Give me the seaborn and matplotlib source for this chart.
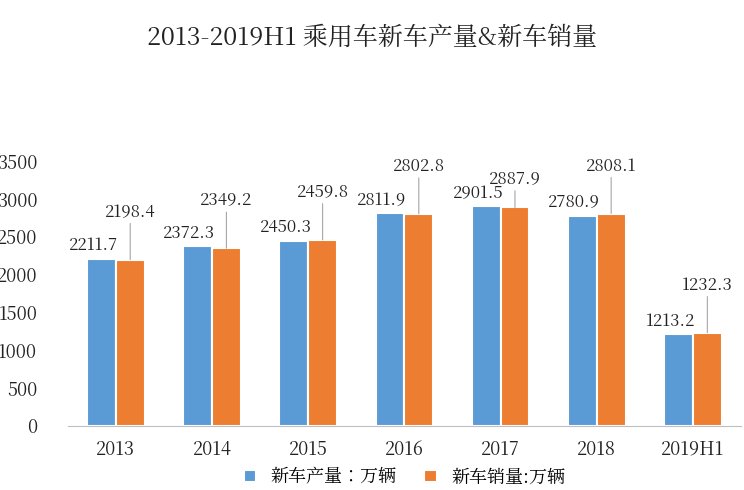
import matplotlib
matplotlib.use("Agg")
import matplotlib.pyplot as plt
from matplotlib import font_manager as fm
import seaborn as sns
import pandas as pd

cands = [f.name for f in fm.fontManager.ttflist if "CJK" in f.name]
fam = "Noto Sans CJK SC" if "Noto Sans CJK SC" in cands else (cands[0] if cands else "DejaVu Sans")
plt.rcParams["font.family"] = "sans-serif"
plt.rcParams["font.sans-serif"] = [fam, "DejaVu Sans"]

years = ["2013", "2014", "2015", "2016", "2017", "2018", "2019H1"]
production = [2211.7, 2372.3, 2450.3, 2811.9, 2901.5, 2780.9, 1213.2]
sales = [2198.4, 2349.2, 2459.8, 2802.8, 2887.9, 2808.1, 1232.3]
s1 = "新车产量：万辆"
s2 = "新车销量:万辆"

df = pd.DataFrame({"year": years * 2, "value": production + sales,
                   "series": [s1] * 7 + [s2] * 7})

fig = plt.figure(figsize=(7.44, 4.9), dpi=100)
ax = fig.add_axes([0.091, 0.131, 0.905, 0.54])
sns.barplot(data=df, x="year", y="value", hue="series", ax=ax,
            palette=["#5B9BD5", "#ED7D31"], width=0.6, saturation=1,
            edgecolor="white", linewidth=1.5)
ax.set_ylim(0, 3500)
ax.set_xlim(-0.5, 6.5)
ax.set_yticks(range(0, 3501, 500))
ax.set_xlabel(""); ax.set_ylabel("")
for s in ["top", "right", "left"]:
    ax.spines[s].set_visible(False)
ax.spines["bottom"].set_color("#BFBFBF")
ax.tick_params(axis="both", length=0, labelsize=13, colors="#222222")
ax.tick_params(axis="y", pad=22)
ax.tick_params(axis="x", pad=10)

off = 0.15
for i, (p, s) in enumerate(zip(production, sales)):
    ax.annotate(f"{p}", (i - off, p), xytext=(-6, 3), textcoords="offset points",
                ha="center", va="bottom", fontsize=12, color="#222222")
    dy = 28 if i != 4 else 14
    ax.annotate(f"{s}", (i + off, s), xytext=(0, dy), textcoords="offset points",
                ha="center", va="bottom", fontsize=12, color="#222222",
                arrowprops=dict(arrowstyle="-", color="#A6A6A6", lw=0.8,
                                shrinkA=0, shrinkB=0))

ax.legend(loc="upper center", bbox_to_anchor=(0.5, -0.15), ncol=2, frameon=False,
          fontsize=13, handlelength=0.7, handleheight=0.7, columnspacing=1.5,
          borderaxespad=0, borderpad=0.1)
fig.suptitle("2013-2019H1 乘用车新车产量&新车销量", y=0.95, fontsize=18, color="#222222")
fig.savefig("out.png", dpi=100)
